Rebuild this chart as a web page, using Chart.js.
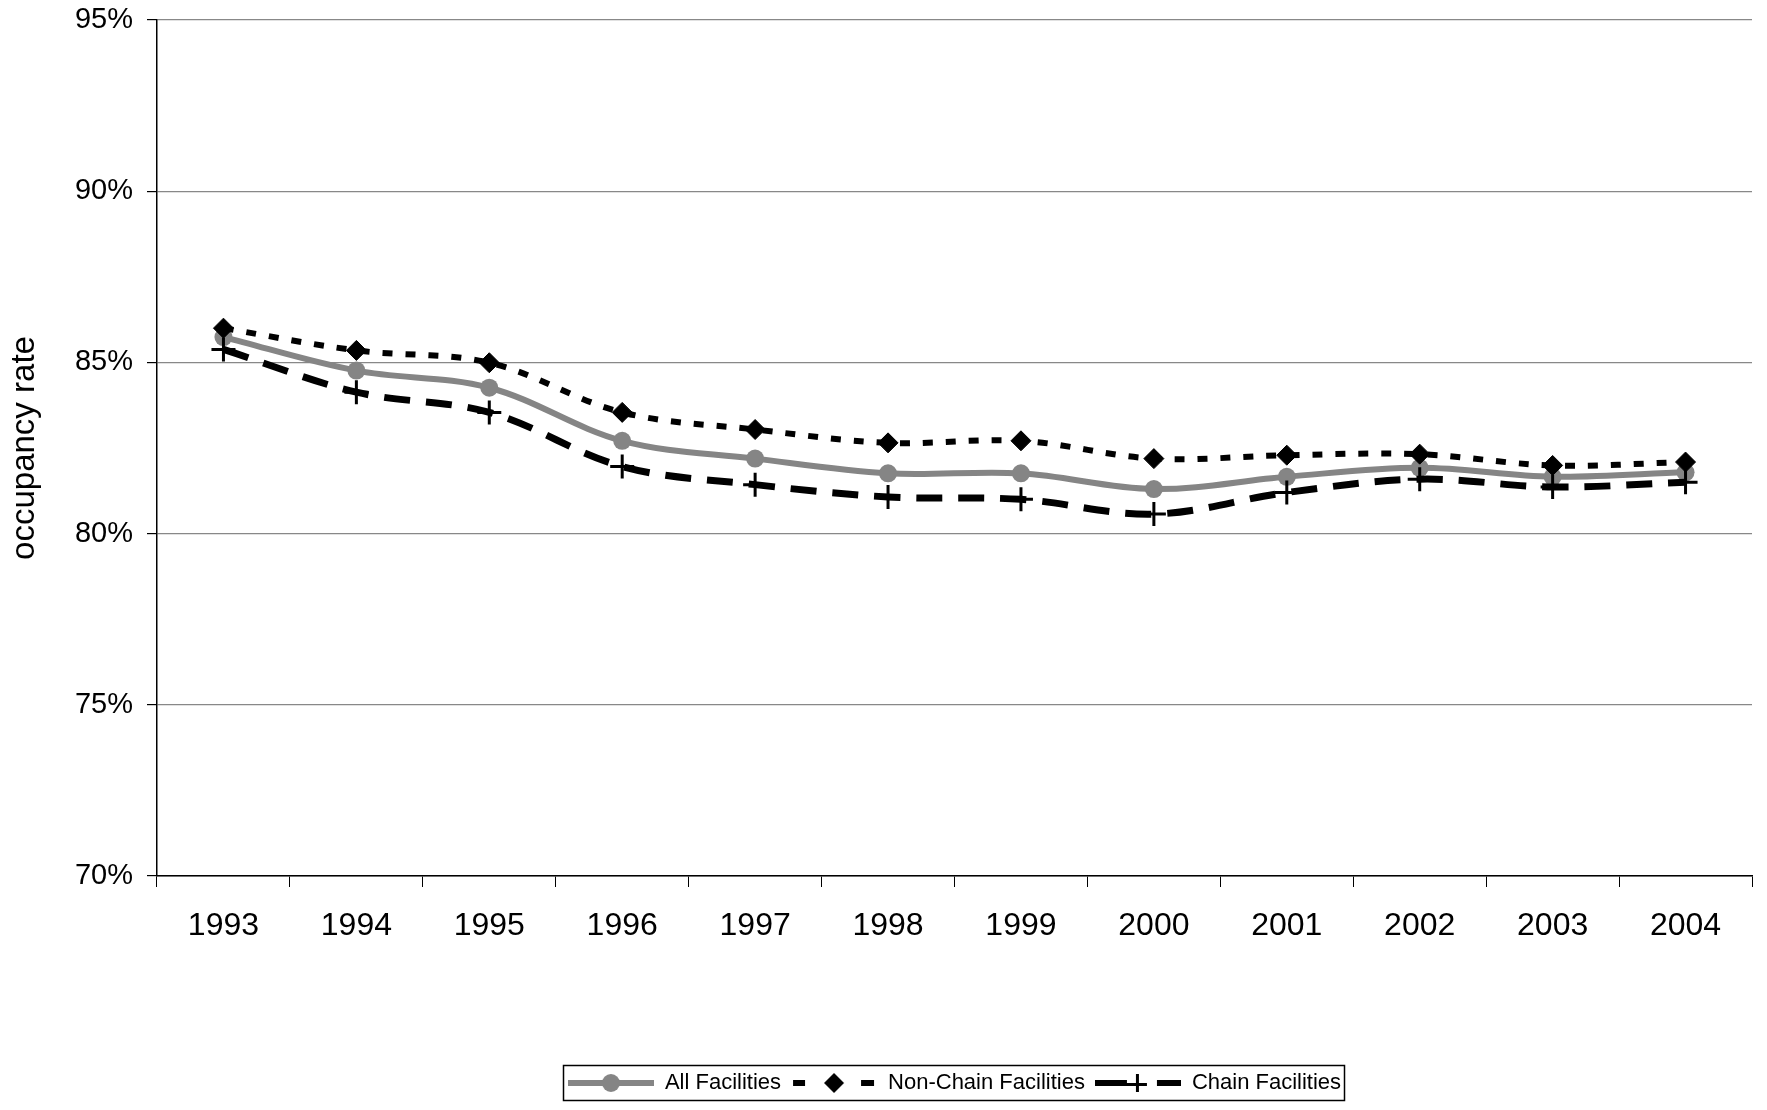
<!DOCTYPE html>
<html>
<head>
<meta charset="utf-8">
<script src="https://cdn.jsdelivr.net/npm/chart.js@4.4.1/dist/chart.umd.min.js"></script>
<style>
  html, body { margin: 0; padding: 0; background: #fff; }
  #wrap { width: 1767px; height: 1110px; }
</style>
</head>
<body>
<div id="wrap"><canvas id="myChart"></canvas></div>
<script>
var years = ['1993', '1994', '1995', '1996', '1997', '1998', '1999', '2000', '2001', '2002', '2003', '2004'];
var allFacilities = [85.74, 84.76, 84.26, 82.71, 82.19, 81.76, 81.76, 81.30, 81.66, 81.92, 81.66, 81.79];
var nonChainFacilities = [86.00, 85.35, 84.99, 83.54, 83.04, 82.65, 82.71, 82.19, 82.29, 82.32, 81.99, 82.09];
var chainFacilities = [85.38, 84.13, 83.54, 81.96, 81.43, 81.07, 81.00, 80.57, 81.20, 81.59, 81.36, 81.50];
var seriesNames = ['All Facilities', 'Non-Chain Facilities', 'Chain Facilities'];
var yMin = 70, yMax = 95, yStep = 5;

var grey = '#858585';

Chart.defaults.font.family = '"Liberation Sans", Arial, sans-serif';
Chart.defaults.color = '#000';

// legend samples: a bit of line with the marker in the middle
function sample(draw) {
  var c = document.createElement('canvas');
  c.width = 86; c.height = 24;
  var g = c.getContext('2d');
  draw(g);
  return c;
}
var legendImages = [
  sample(function (g) {
    g.strokeStyle = grey; g.lineWidth = 6;
    g.beginPath(); g.moveTo(0, 12); g.lineTo(86, 12); g.stroke();
    g.fillStyle = grey;
    g.beginPath(); g.arc(43, 12, 9, 0, Math.PI * 2); g.fill();
  }),
  sample(function (g) {
    g.fillStyle = '#000';
    g.fillRect(2, 9, 12, 6);
    g.fillRect(70, 9, 13, 6);
    g.beginPath(); g.moveTo(43, 2); g.lineTo(53, 12); g.lineTo(43, 22); g.lineTo(33, 12); g.closePath(); g.fill();
  }),
  sample(function (g) {
    g.fillStyle = '#000';
    g.fillRect(0, 9, 32, 6);
    g.fillRect(62, 9, 24, 6);
    g.fillRect(32, 12, 20, 3);
    g.fillRect(41, 3, 3, 18);
  })
];

var legendBorder = {
  id: 'legendBorder',
  afterDraw: function (chart) {
    var boxes = chart.legend.legendHitBoxes;
    if (!boxes || !boxes.length) return;
    var l = Infinity, r = -Infinity, t = Infinity, b = -Infinity;
    boxes.forEach(function (h) {
      l = Math.min(l, h.left); r = Math.max(r, h.left + h.width);
      t = Math.min(t, h.top); b = Math.max(b, h.top + h.height);
    });
    var ctx = chart.ctx;
    ctx.save();
    ctx.strokeStyle = '#000';
    ctx.lineWidth = 1.5;
    ctx.strokeRect(Math.round(l - 5) + 0.5, Math.round(t - 7) + 0.5, Math.round(r - l + 8), Math.round(b - t + 13));
    ctx.restore();
  }
};

new Chart(document.getElementById('myChart'), {
  type: 'line',
  data: {
    labels: years,
    datasets: [
      {
        label: seriesNames[0],
        data: allFacilities,
        borderColor: grey,
        backgroundColor: grey,
        borderWidth: 6,
        pointStyle: 'circle',
        pointRadius: 9,
        pointBorderWidth: 0,
        tension: 0.35,
        order: 3
      },
      {
        label: seriesNames[1],
        data: nonChainFacilities,
        borderColor: '#000',
        backgroundColor: '#000',
        borderWidth: 6,
        borderDash: [10, 13],
        pointStyle: 'rectRot',
        pointRadius: 10,
        pointBorderWidth: 1,
        tension: 0.35,
        order: 1
      },
      {
        label: seriesNames[2],
        data: chainFacilities,
        borderColor: '#000',
        backgroundColor: '#000',
        borderWidth: 7,
        borderDash: [26, 16],
        pointStyle: 'cross',
        pointRadius: 12,
        pointBorderWidth: 3,
        tension: 0.35,
        order: 2
      }
    ]
  },
  options: {
    responsive: true,
    maintainAspectRatio: false,
    animation: false,
    layout: { padding: { top: 20, right: 11, bottom: 6, left: 0 } },
    plugins: {
      tooltip: { enabled: false },
      legend: {
        position: 'bottom',
        fullSize: false,
        labels: {
          font: { size: 22 },
          color: '#000',
          usePointStyle: true,
          pointStyleWidth: 86,
          padding: 10,
          generateLabels: function (chart) {
            var items = Chart.defaults.plugins.legend.labels.generateLabels(chart);
            items.forEach(function (it) { it.pointStyle = legendImages[it.datasetIndex]; });
            items.sort(function (a, b) { return a.datasetIndex - b.datasetIndex; });
            return items;
          }
        }
      }
    },
    scales: {
      x: {
        offset: true,
        grid: { offset: true, drawOnChartArea: false, color: '#000', tickLength: 11 },
        border: { color: '#000', width: 1.5 },
        ticks: { font: { size: 32 }, color: '#000', padding: 20, maxRotation: 0 },
        afterFit: function (scale) { scale.height = 186; }
      },
      y: {
        min: yMin,
        max: yMax,
        grid: { color: '#888', tickColor: '#000', tickLength: 10, lineWidth: 1.2 },
        border: { color: '#000', width: 1.5 },
        ticks: {
          stepSize: yStep,
          font: { size: 29 },
          color: '#000',
          padding: 14,
          callback: function (v) { return v + '%'; }
        },
        title: {
          display: true,
          text: 'occupancy rate',
          font: { size: 33 },
          color: '#000',
          padding: { top: 5, bottom: 0 }
        },
        afterFit: function (scale) {
          scale.width = 157;
          scale.paddingTop = 0;
          scale.paddingBottom = 0;
        }
      }
    }
  },
  plugins: [legendBorder]
});
</script>
</body>
</html>
